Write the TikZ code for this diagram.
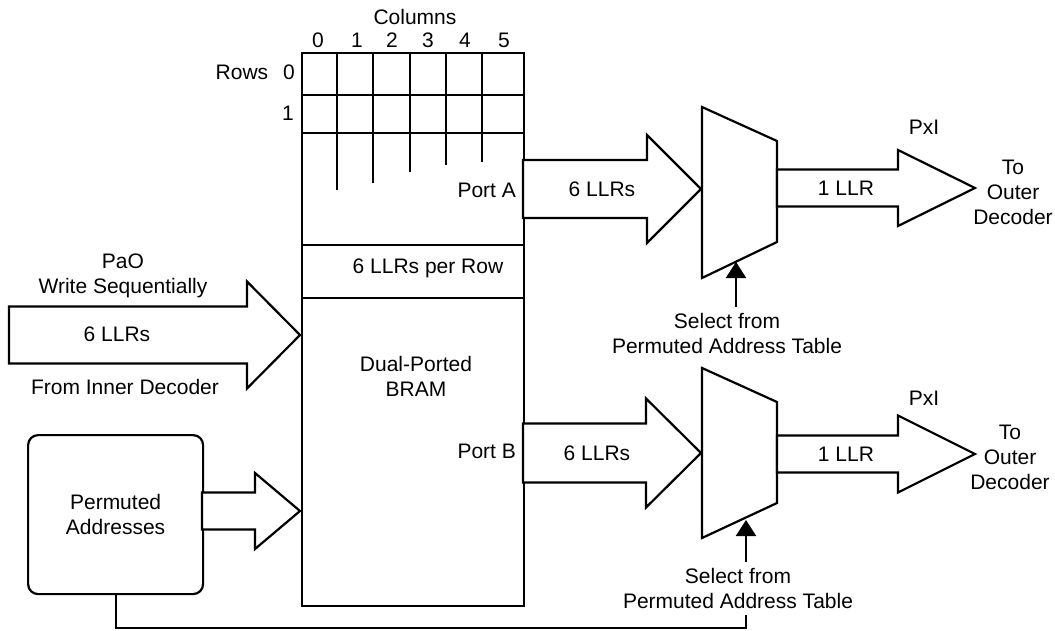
\documentclass[tikz,border=0pt]{standalone}
\usepackage{fontspec}
\setmainfont{Liberation Sans}
\usetikzlibrary{arrows.meta,positioning,calc}

\tikzset{
  box/.style={draw, anchor=north west, inner sep=0pt},
  fatarr/.style={draw, fill=white, line join=miter},
  selarr/.style={-{Triangle[width=20pt,length=16pt]}},
}
% wide arrow: from, tip, half shaft, half head, head length
\newcommand{\fatarrow}[5]{%
  \draw[fatarr] let \p1=(#1), \p2=(#2) in
    (\x1,{\y2+#3}) -- ({\x2-#5},{\y2+#3}) -- ({\x2-#5},{\y2+#4}) -- (\p2)
    -- ({\x2-#5},{\y2-#4}) -- ({\x2-#5},{\y2-#3}) -- (\x1,{\y2-#3}) -- cycle;}

\begin{document}
\begin{tikzpicture}[x=1pt, y=-1pt, line width=2.2pt,
  every node/.style={font=\fontsize{21}{25}\selectfont, inner sep=0pt, align=center}]
\useasboundingbox (0,0) rectangle (1055,631);

% BRAM
\node[box, minimum width=222pt, minimum height=553pt] (bram) at (301,52) {};
\node[box, minimum width=222pt, minimum height=53pt] (perrow) at (301,244) {};
\node (perrowtxt) at (428,268) {6 LLRs per Row};
\node (bramtxt) at (416,376) {Dual-Ported\\BRAM};
\draw (301,95) -- (523,95) (301,133) -- (523,133);
\foreach \x/\e in {337/190,373/183,410/172,446/165,482/162}
  \draw (\x,52) -- (\x,\e);
\foreach \c/\x in {0/318,1/357,2/392,3/428,4/465,5/504}
  \node (col\c) at (\x,40) {\c};
\node (cols) at (415,17) {Columns};
\node (rows) at (242,72) {Rows};
\node (row0) at (289,72) {0};
\node (row1) at (288,113) {1};
\node[anchor=east] (porta) at (517,190) {Port A};
\node[anchor=east] (portb) at (517,451) {Port B};

% address table
\node[box, rounded corners=10pt, minimum width=175pt, minimum height=159pt] (perm) at (27,434) {Permuted\\Addresses};

% muxes
\draw[line join=miter] (702,107) -- (777,141) -- (777,242) -- (702,278) -- cycle;
\draw[line join=miter] (702,368) -- (777,402) -- (777,503) -- (702,538) -- cycle;

\coordinate (inl) at (9,335);    \coordinate (inr) at (300,335);
\coordinate (pms) at (202,511);  \coordinate (pmt) at (300,511);
\coordinate (pas) at (523,189);  \coordinate (ain) at (701,189);
\coordinate (pbs) at (523,453);  \coordinate (bin) at (701,453);
\coordinate (aout) at (777,188); \coordinate (atip) at (975,188);
\coordinate (bout) at (777,454); \coordinate (btip) at (975,454);
\coordinate (tA) at (736,262);   \coordinate (tB) at (746,520);
\coordinate (fb) at (746,615);

\fatarrow{inl}{inr}{28.5}{53.5}{53}
\fatarrow{pms}{pmt}{18.5}{38}{45}
\fatarrow{pas}{ain}{29}{54}{54}
\fatarrow{pbs}{bin}{29.5}{54.5}{55}
\fatarrow{aout}{atip}{18.5}{38}{77}
\fatarrow{bout}{btip}{18.5}{38.5}{77}

% labels
\node (pao) at (123,276) {PaO\\Write Sequentially};
\node (inlbl) at (117,334) {6 LLRs};
\node (from) at (125,387) {From Inner Decoder};
\node (lla) at (602,189) {6 LLRs};
\node (llb) at (597,453) {6 LLRs};
\node (onea) at (846,188) {1 LLR};
\node (oneb) at (846,454) {1 LLR};
\node (pxa) at (924,127) {PxI};
\node (pxb) at (924,398) {PxI};
\node (toa) at (1013,192) {To\\Outer\\Decoder};
\node (tob) at (1010,457) {To\\Outer\\Decoder};
\node (sela) at (727,333) {Select from\\Permuted Address Table};
\node (selb) at (738,588) {Select from\\Permuted Address Table};

% select lines
\draw[selarr] (sela.north -| tA) ++(0,-5) -- (tA);
\draw[selarr] (selb.north -| tB) ++(0,-5) -- (tB);
\draw (perm.south) -- (perm.south |- 0,628) -| (fb);
\end{tikzpicture}
\end{document}
